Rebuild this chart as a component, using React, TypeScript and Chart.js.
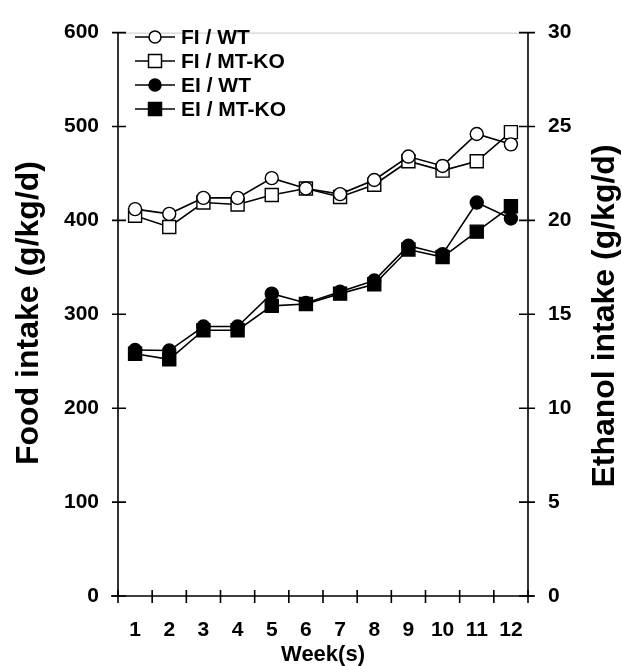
import React, { useEffect, useRef } from 'react';
import { Chart, registerables } from 'chart.js';

Chart.register(...registerables);

const FONT = "'Liberation Sans', Arial, Helvetica, sans-serif";

// Data
const weeks = ['1', '2', '3', '4', '5', '6', '7', '8', '9', '10', '11', '12'];
const seriesLabels = ['FI / WT', 'FI / MT-KO', 'EI / WT', 'EI / MT-KO'];
// Food intake (g/kg/d), left axis
const fiWT = [412, 407, 424, 424, 445, 434, 428, 443, 468, 458, 492, 481];
const fiMTKO = [405, 393, 419, 417, 427, 434, 425, 438, 463, 453, 463, 494];
// Ethanol intake (g/kg/d), right axis
const eiWT = [13.1, 13.07, 14.35, 14.35, 16.1, 15.6, 16.2, 16.8, 18.65, 18.2, 20.95, 20.1];
const eiMTKO = [12.9, 12.6, 14.15, 14.15, 15.45, 15.55, 16.1, 16.6, 18.45, 18.05, 19.4, 20.75];

const leftTitle = 'Food intake (g/kg/d)';
const rightTitle = 'Ethanol intake (g/kg/d)';
const xTitle = 'Week(s)';

export default function App() {
  const ref = useRef<HTMLCanvasElement>(null);

  useEffect(() => {
    const canvas = ref.current;
    if (!canvas) return;

    const framePlugin = {
      id: 'frame',
      beforeDatasetsDraw(chart: any) {
        const { ctx, chartArea } = chart;
        const { left, right, top, bottom } = chartArea;
        ctx.save();
        // faint top border
        ctx.strokeStyle = '#c8c8c8';
        ctx.lineWidth = 1;
        ctx.beginPath();
        ctx.moveTo(left, top + 0.5);
        ctx.lineTo(right, top + 0.5);
        ctx.stroke();

        ctx.strokeStyle = '#000';
        ctx.lineWidth = 1.6;
        ctx.beginPath();
        ctx.moveTo(left, top);
        ctx.lineTo(left, bottom);
        ctx.moveTo(right, top);
        ctx.lineTo(right, bottom);
        ctx.moveTo(left - 7, bottom);
        ctx.lineTo(right + 6, bottom);
        ctx.stroke();

        // left ticks
        const y = chart.scales.y;
        ctx.beginPath();
        y.ticks.forEach((t: any) => {
          const py = y.getPixelForValue(t.value);
          ctx.moveTo(left - 6, py);
          ctx.lineTo(left + 8, py);
        });
        const y1 = chart.scales.y1;
        y1.ticks.forEach((t: any) => {
          const py = y1.getPixelForValue(t.value);
          ctx.moveTo(right - 9, py);
          ctx.lineTo(right + 7, py);
        });
        const x = chart.scales.x;
        for (let i = 0; i <= weeks.length; i++) {
          const px = x.getPixelForValue(i - 0.5);
          ctx.moveTo(px, bottom - 6);
          ctx.lineTo(px, bottom + 7);
        }
        ctx.stroke();
        ctx.restore();
      },
      afterDraw(chart: any) {
        const { ctx, chartArea } = chart;
        ctx.save();
        ctx.fillStyle = '#000';
        // titles
        ctx.font = `bold 32px ${FONT}`;
        ctx.textAlign = 'center';
        ctx.textBaseline = 'middle';
        ctx.save();
        ctx.translate(29, 313);
        ctx.rotate(-Math.PI / 2);
        ctx.fillText(leftTitle, 0, 0);
        ctx.restore();
        ctx.save();
        ctx.translate(605, 316);
        ctx.rotate(-Math.PI / 2);
        ctx.fillText(rightTitle, 0, 0);
        ctx.restore();
        ctx.font = `bold 22px ${FONT}`;
        ctx.fillText(xTitle, (chartArea.left + chartArea.right) / 2, 655);

        // legend
        const styles = [
          { shape: 'circle', fill: '#fff' },
          { shape: 'rect', fill: '#fff' },
          { shape: 'circle', fill: '#000' },
          { shape: 'rect', fill: '#000' },
        ];
        ctx.font = `bold 21px ${FONT}`;
        ctx.textAlign = 'left';
        seriesLabels.forEach((lab, i) => {
          const ly = 37 + i * 24;
          const lx = chartArea.left + 17;
          ctx.strokeStyle = '#000';
          ctx.lineWidth = 1.5;
          ctx.beginPath();
          ctx.moveTo(lx, ly);
          ctx.lineTo(lx + 40, ly);
          ctx.stroke();
          const mx = lx + 20;
          ctx.fillStyle = styles[i].fill;
          ctx.beginPath();
          if (styles[i].shape === 'circle') ctx.arc(mx, ly, 6, 0, Math.PI * 2);
          else ctx.rect(mx - 6.5, ly - 6.5, 13, 13);
          ctx.fill();
          ctx.stroke();
          ctx.fillStyle = '#000';
          ctx.fillText(lab, lx + 46, ly + 1);
        });
        ctx.restore();
      },
    };

    const common = {
      borderColor: '#000',
      borderWidth: 1.6,
      pointBorderColor: '#000',
      pointBorderWidth: 1.4,
      tension: 0,
    };

    const tickFont = { family: FONT, size: 21, weight: 'bold' };

    const chart = new Chart(canvas, {
      type: 'line',
      data: {
        labels: weeks,
        datasets: [
          { ...common, label: seriesLabels[0], data: fiWT, yAxisID: 'y', pointStyle: 'circle', pointRadius: 6.5, pointBackgroundColor: '#fff' },
          { ...common, label: seriesLabels[1], data: fiMTKO, yAxisID: 'y', pointStyle: 'rect', pointRadius: 9.2, pointBackgroundColor: '#fff' },
          { ...common, label: seriesLabels[2], data: eiWT, yAxisID: 'y1', pointStyle: 'circle', pointRadius: 6.5, pointBackgroundColor: '#000' },
          { ...common, label: seriesLabels[3], data: eiMTKO, yAxisID: 'y1', pointStyle: 'rect', pointRadius: 9.2, pointBackgroundColor: '#000' },
        ],
      },
      options: {
        responsive: false,
        animation: false,
        devicePixelRatio: 1,
        layout: { padding: { top: 21, left: 0, right: 0, bottom: 0 } },
        plugins: { legend: { display: false }, tooltip: { enabled: false } },
        scales: {
          x: {
            type: 'category',
            offset: true,
            grid: { display: false, drawTicks: false, tickLength: 0 },
            border: { display: false },
            ticks: { color: '#000', font: tickFont, padding: 22, maxRotation: 0, autoSkip: false },
            afterFit: (s: any) => { s.height = 70; },
          },
          y: {
            position: 'left',
            min: 0,
            max: 600,
            grid: { display: false, drawTicks: false, tickLength: 0 },
            border: { display: false },
            ticks: { stepSize: 100, color: '#000', font: tickFont, padding: 19 },
            afterFit: (s: any) => { s.width = 118; },
          },
          y1: {
            position: 'right',
            min: 0,
            max: 30,
            grid: { display: false, drawTicks: false, tickLength: 0 },
            border: { display: false },
            ticks: { stepSize: 5, color: '#000', font: tickFont, padding: 20 },
            afterFit: (s: any) => { s.width = 94; },
          },
        },
      } as any,
      plugins: [framePlugin],
    });

    return () => chart.destroy();
  }, []);

  return (
    <div style={{ position: 'absolute', left: 0, top: 0, width: 622, height: 666, background: '#fff' }}>
      <canvas ref={ref} width={622} height={666} style={{ display: 'block' }} />
    </div>
  );
}
